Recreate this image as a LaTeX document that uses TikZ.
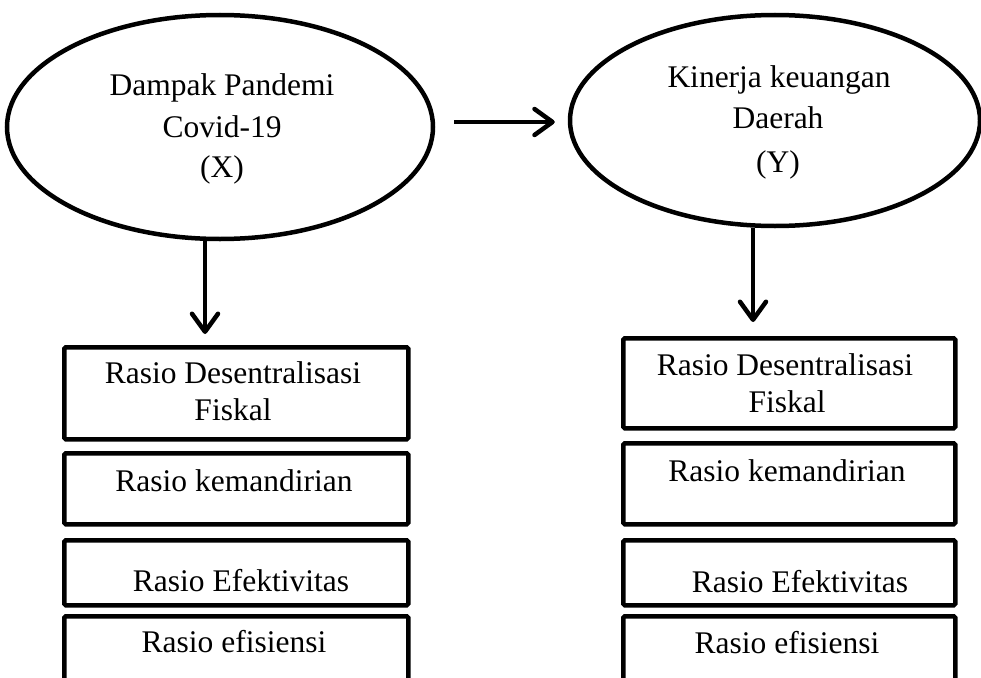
\documentclass[tikz,border=0pt]{standalone}
\usepackage{fontspec}
\setmainfont{Liberation Serif}
\usetikzlibrary{shapes.geometric,arrows.meta}
\begin{document}
\begin{tikzpicture}[x=1pt,y=-1pt,
  lw/.style={line width=4.5pt},
  oval/.style={draw,lw,ellipse,inner sep=0pt},
  box/.style={draw,lw,rectangle,rounded corners=1.5pt,inner sep=0pt,anchor=north west},
  txt/.style={font=\fontsize{31.5}{38}\selectfont,inner sep=0pt,anchor=base},
  arr/.style={line width=4.5pt,-{Straight Barb[length=18pt,width=26pt,round]}}]
\useasboundingbox (0,0) rectangle (981,677);
\clip (0,0) rectangle (981,677);
% ellipses
\node[oval,minimum width=426pt,minimum height=224pt] (X) at (220,127) {};
\node[oval,minimum width=410pt,minimum height=211pt] (Y) at (775,120.5) {};
\node[txt] (x1) at (222,95) {Dampak Pandemi};
\node[txt] (x2) at (222,137) {Covid-19};
\node[txt] (x3) at (222,177) {(X)};
\node[txt] (y1) at (779,87) {Kinerja keuangan};
\node[txt] (y2) at (778,128) {Daerah};
\node[txt] (y3) at (778,172) {(Y)};
% left boxes
\node[box,minimum width=344pt,minimum height=92pt] (L1) at (62,345) {};
\node[box,minimum width=344pt,minimum height=71pt] (L2) at (62,451) {};
\node[box,minimum width=344pt,minimum height=65pt] (L3) at (62,538) {};
\node[box,minimum width=344pt,minimum height=106pt] (L4) at (62,614) {};
\node[txt] (l1a) at (233,383) {Rasio Desentralisasi};
\node[txt] (l1b) at (233,420.5) {Fiskal};
\node[txt] (l2) at (234,491) {Rasio kemandirian};
\node[txt] (l3) at (241,591.5) {Rasio Efektivitas};
\node[txt] (l4) at (234,652.5) {Rasio efisiensi};
% right boxes
\node[box,minimum width=332pt,minimum height=90pt] (R1) at (621,336) {};
\node[box,minimum width=332pt,minimum height=81pt] (R2) at (621,441) {};
\node[box,minimum width=332pt,minimum height=65pt] (R3) at (621,538) {};
\node[box,minimum width=332pt,minimum height=106pt] (R4) at (621,614) {};
\node[txt] (r1a) at (785,375) {Rasio Desentralisasi};
\node[txt] (r1b) at (787,412) {Fiskal};
\node[txt] (r2) at (787,481) {Rasio kemandirian};
\node[txt] (r3) at (800,592) {Rasio Efektivitas};
\node[txt] (r4) at (787,653) {Rasio efisiensi};
% arrows
\coordinate (xa) at (205,0);
\coordinate (ya) at (753,0);
\coordinate (hy) at (0,122);
\draw[arr,shorten >=11pt] (X.south -| xa) -- (L1.north -| xa);
\draw[arr,shorten >=14pt] (Y.south -| ya) -- (R1.north -| ya);
\draw[arr,shorten <=19pt,shorten >=13pt] (X.east |- hy) -- (Y.west |- hy);
\end{tikzpicture}
\end{document}
